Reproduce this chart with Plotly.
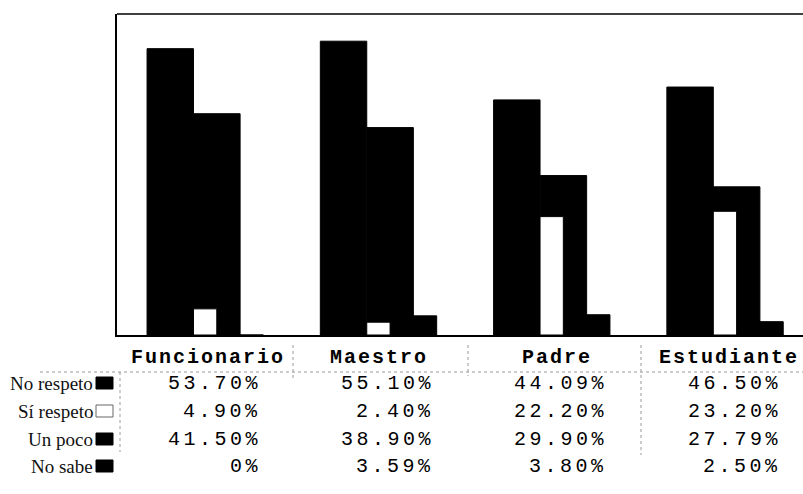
import plotly.graph_objects as go

# ---- data ----
categories = ["Funcionario", "Maestro", "Padre", "Estudiante"]
series_names = ["No respeto", "Sí respeto", "Un poco", "No sabe"]
no_respeto = [53.70, 55.10, 44.09, 46.50]
si_respeto = [4.90, 2.40, 22.20, 23.20]
un_poco = [41.50, 38.90, 29.90, 27.79]
no_sabe = [0.0, 3.59, 3.80, 2.50]
value_labels = [
    ["53.70%", "55.10%", "44.09%", "46.50%"],
    ["4.90%", "2.40%", "22.20%", "23.20%"],
    ["41.50%", "38.90%", "29.90%", "27.79%"],
    ["0%", "3.59%", "3.80%", "2.50%"],
]

# ---- style ----
W, H = 803, 494
L, T, B, R = 117, 14, 159, 0
plot_h = H - T - B
series_values = [no_respeto, si_respeto, un_poco, no_sabe]
fills = ["#000000", "#ffffff", "#000000", "#000000"]
bar_w = 0.268
offsets = [-0.3376, -0.2031, -0.0686, 0.0659]
xs = list(range(len(categories)))

fig = go.Figure()
# draw in reverse so the first series sits on top
for i in reversed(range(4)):
    fig.add_trace(go.Bar(
        x=xs, y=series_values[i], name=series_names[i],
        width=bar_w, offset=offsets[i],
        marker=dict(color=fills[i], line=dict(color="#000000", width=1)),
        showlegend=False, hoverinfo="skip",
    ))

def py(ypx):
    return (H - B - ypx) / plot_h

def px(xpx):
    return (xpx - L) / (W - L - R)

annotations = []
shapes = []
mono = "Liberation Mono, Courier New, monospace"
serif = "Liberation Serif, Times New Roman, serif"

header_y = 357
row_ys = [383, 411, 439, 466]
header_dx = [0.015, 0.0, 0.03, 0.02]

for j, c in enumerate(categories):
    annotations.append(dict(
        x=j + header_dx[j], xref="x", y=py(header_y), yref="paper",
        text="<b><span style='letter-spacing:2px'>%s</span></b>" % c,
        showarrow=False, xanchor="center", yanchor="middle",
        font=dict(family=mono, size=20, color="#000000"),
    ))
    for r in range(4):
        annotations.append(dict(
            x=j + 0.33, xref="x", y=py(row_ys[r]), yref="paper",
            text="<span style='letter-spacing:3.5px'>%s</span>" % value_labels[r][j],
            showarrow=False, xanchor="right", yanchor="middle",
            font=dict(family=mono, size=20, color="#000000"),
        ))

for r in range(4):
    annotations.append(dict(
        x=px(95), xref="paper", y=py(row_ys[r]), yref="paper",
        text=series_names[r], showarrow=False, xanchor="right", yanchor="middle",
        font=dict(family=serif, size=19, color="#111111"),
    ))
    shapes.append(dict(
        type="rect", xref="paper", yref="paper",
        x0=px(96), x1=px(113), y0=py(row_ys[r] + 6), y1=py(row_ys[r] - 6),
        fillcolor=fills[r], line=dict(color="#000000" if r != 1 else "#666666", width=1),
    ))

# top frame line
shapes.append(dict(type="line", xref="paper", yref="paper", x0=0, x1=1, y0=1, y1=1,
                   line=dict(color="#000000", width=1.5)))
# faint table grid (dotted)
grid = [
    (40, 372, 803, 372),
    (120, 372, 120, 452),
    (293, 345, 293, 380),
    (468, 345, 468, 376),
    (641, 345, 641, 455),
]
for x0, y0, x1, y1 in grid:
    shapes.append(dict(type="line", xref="paper", yref="paper",
                       x0=px(x0), x1=px(x1), y0=py(y0), y1=py(y1),
                       line=dict(color="#9a9a9a", width=1, dash="dot")))

fig.update_layout(
    width=W, height=H,
    margin=dict(l=L, r=R, t=T, b=B),
    paper_bgcolor="#ffffff", plot_bgcolor="#ffffff",
    barmode="overlay",
    xaxis=dict(range=[-0.511, 3.448], showticklabels=False, ticks="", showgrid=False,
               zeroline=False, showline=True, linecolor="#000000", linewidth=1.5),
    yaxis=dict(range=[0, 60.2], showticklabels=False, ticks="", showgrid=False,
               zeroline=False, showline=True, linecolor="#000000", linewidth=1.5),
    annotations=annotations, shapes=shapes,
)

fig.write_html(
    "out.html",
    config={"displayModeBar": False},
    post_script="document.body.style.margin='0';document.body.style.overflow='hidden';",
)
